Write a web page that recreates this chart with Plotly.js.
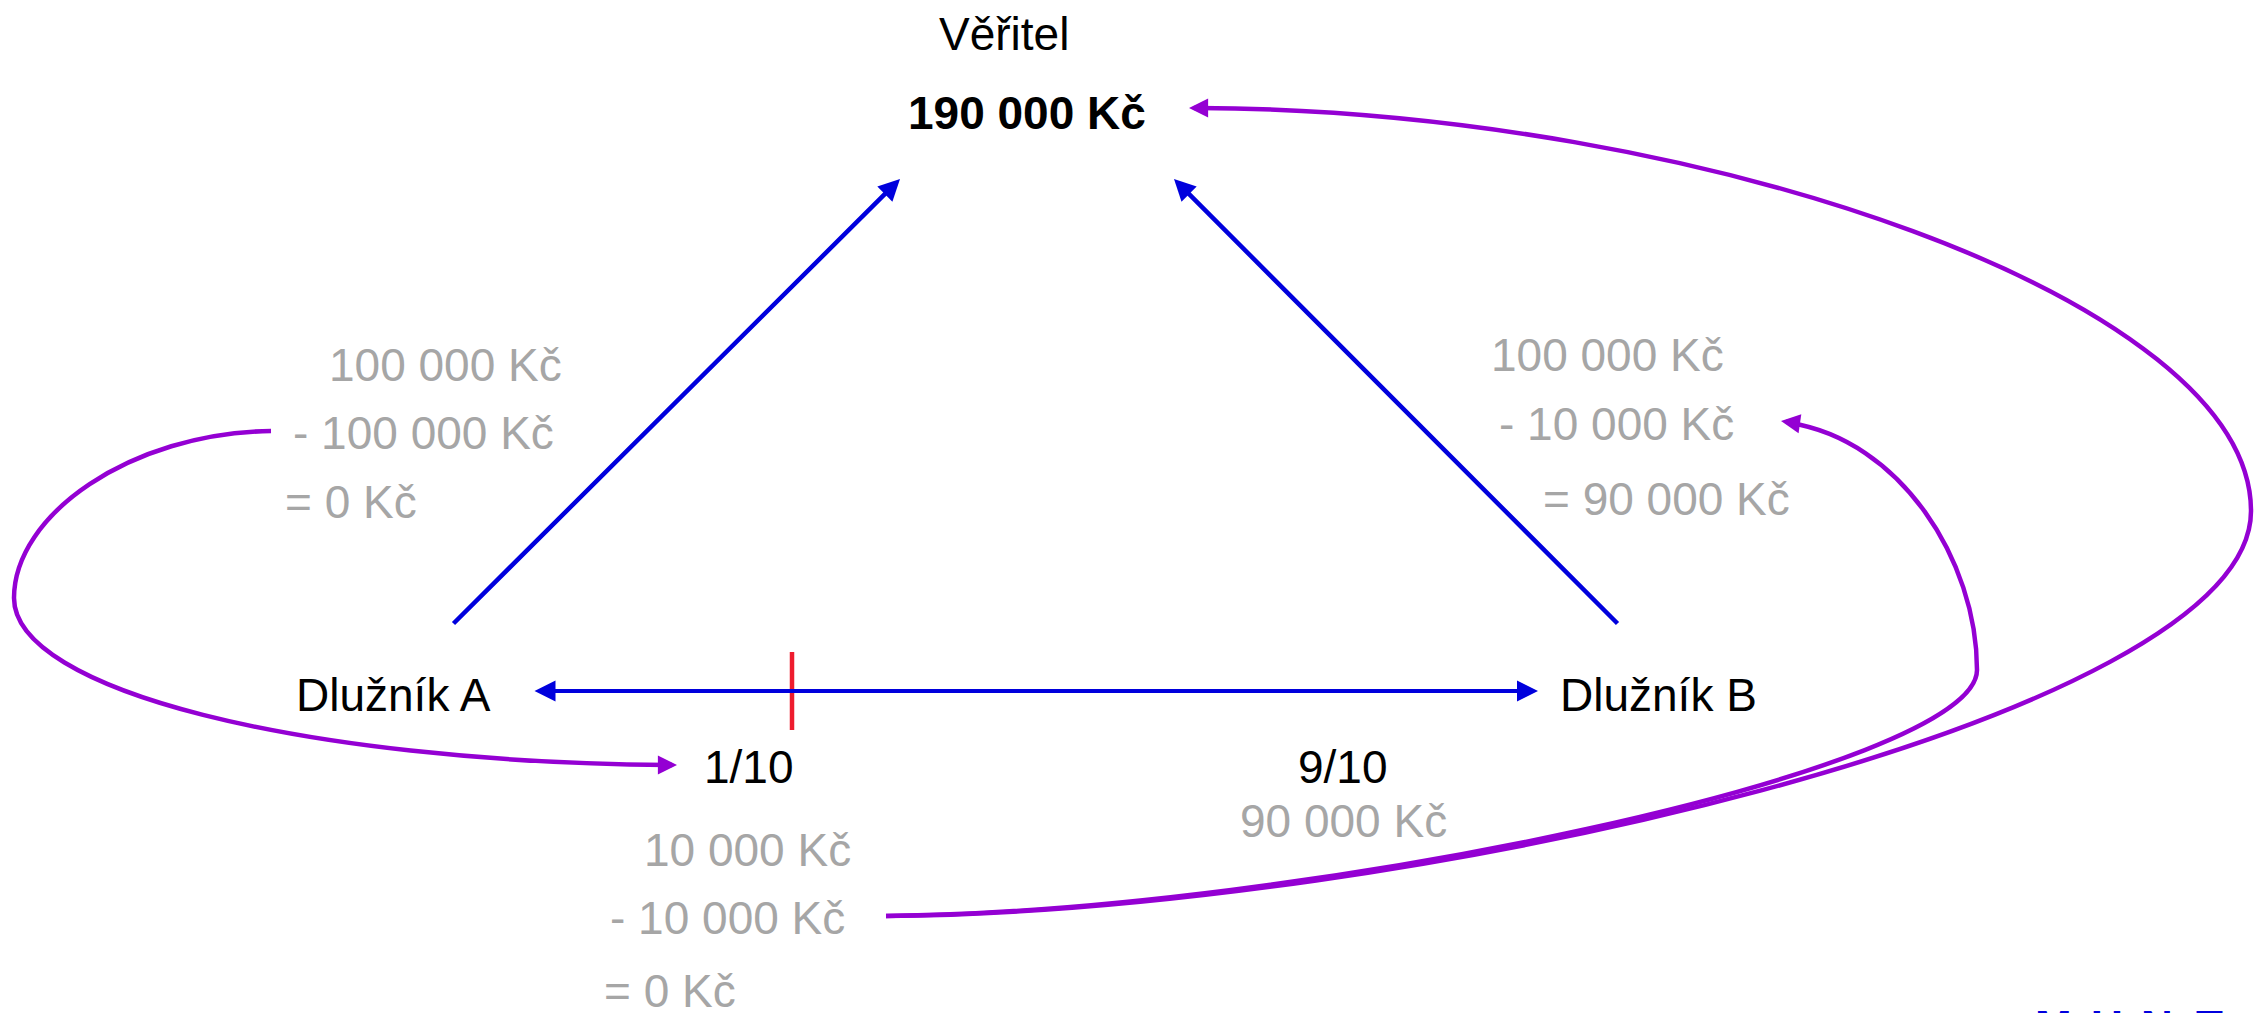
<!DOCTYPE html>
<html><head><meta charset="utf-8">
<script src="https://cdn.plot.ly/plotly-3.0.1.min.js"></script>
<style>html,body{margin:0;padding:0;background:#fff;overflow:hidden}</style>
</head><body><div id="chart" style="width:2258px;height:1013px"></div>
<script>
// ---- content (texts) ----
const nodeNames = ['Věřitel', 'Dlužník A', 'Dlužník B'];
const creditorTotal = '190 000 Kč';
const shares = ['1/10', '9/10'];
const shareAmountB = '90 000 Kč';
const ledgerA = ['100 000 Kč', '- 100 000 Kč', '= 0 Kč'];
const ledgerB = ['100 000 Kč', '- 10 000 Kč', '= 90 000 Kč'];
const ledgerShareA = ['10 000 Kč', '- 10 000 Kč', '= 0 Kč'];
const logoLetters = ['M', 'U', 'N', 'T'];

// ---- layout positions (diagram coordinates, pixel-like space) ----
const nodePos = [[1004, 34], [393, 695], [1658, 695]];
const totalPos = [1027, 113];
const sharePos = [[749, 767], [1343, 767]];
const shareAmountPos = [1343, 821];
const ledgerAPos = [[327, 365], [291, 433], [283, 502]];
const ledgerBPos = [[1489, 355], [1497, 424], [1541, 499]];
const ledgerShareAPos = [[642, 850], [608, 918], [602, 991]];
const logoX = [2053, 2107, 2157, 2209];

// blue straight arrows: [tailX, tailY, tipX, tipY]
const debtArrows = [[452, 625, 900, 179], [1619, 625, 1174, 179]];
const splitArrow = [533, 691, 1538, 691];
const splitMark = [792, 652, 792, 730];

// purple bezier curves: start point then triples of cubic control points
const curveA = [[271, 431], [130, 433], [14, 515], [14, 598], [14, 690], [300, 762], [668, 765]];
const curveInner = [[886, 916], [1300, 912], [1977, 770], [1977, 670], [1977, 560], [1900, 440], [1790, 423]];
const curveOuter = [[886, 916], [1400, 912], [2251, 720], [2251, 511], [2251, 300], [1700, 110], [1198, 108]];
const curveTips = [[677, 765, 662, 765], [1781, 421, 1795, 423], [1189, 108, 1204, 108]];

const BLUE = '#0000DD', PURPLE = '#9400D3', GRAY = '#A6A6A6', RED = '#EE1C2E';
const FONT = 'Arial, "Liberation Sans", Helvetica, sans-serif';
const FS = 46;

function bez(pts) {
  let s = 'M ' + pts[0][0] + ',' + pts[0][1];
  for (let i = 1; i < pts.length; i += 3) {
    s += ' C ' + pts[i][0] + ',' + pts[i][1] + ' ' + pts[i+1][0] + ',' + pts[i+1][1] + ' ' + pts[i+2][0] + ',' + pts[i+2][1];
  }
  return s;
}

const annotations = [];
function txt(t, p, color, anchor, bold, size) {
  annotations.push({
    x: p[0], y: p[1], xref: 'x', yref: 'y', text: bold ? '<b>' + t + '</b>' : t,
    showarrow: false, xanchor: anchor, yanchor: 'middle',
    font: {family: FONT, size: size || FS, color: color}
  });
}
nodeNames.forEach((n, i) => txt(n, nodePos[i], '#000', 'center'));
txt(creditorTotal, totalPos, '#000', 'center', true);
shares.forEach((s, i) => txt(s, sharePos[i], '#000', 'center'));
txt(shareAmountB, shareAmountPos, GRAY, 'center');
ledgerA.forEach((s, i) => txt(s, ledgerAPos[i], GRAY, 'left'));
ledgerB.forEach((s, i) => txt(s, ledgerBPos[i], GRAY, 'left'));
ledgerShareA.forEach((s, i) => txt(s, ledgerShareAPos[i], GRAY, 'left'));
logoLetters.forEach((s, i) => annotations.push({
  x: logoX[i], y: 1000, xref: 'x', yref: 'y', text: '<b>' + s + '</b>', showarrow: false,
  xanchor: 'center', yanchor: 'top', font: {family: FONT, size: 44, color: BLUE}
}));

function arrow(a, color, w, size, both) {
  annotations.push({
    x: a[2], y: a[3], ax: a[0], ay: a[1], xref: 'x', yref: 'y', axref: 'x', ayref: 'y',
    text: '', showarrow: true, arrowhead: 2, arrowsize: size, arrowwidth: w, arrowcolor: color,
    arrowside: both ? 'end+start' : 'end', startarrowhead: 2, startarrowsize: size, standoff: 0, startstandoff: 0
  });
}
debtArrows.forEach(a => arrow(a, BLUE, 4.5, 0.95));
arrow(splitArrow, BLUE, 4, 1.05, true);
curveTips.forEach(t => arrow([t[2], t[3], t[0], t[1]], PURPLE, 4.5, 0.85));

const shapes = [curveA, curveInner, curveOuter].map(c => ({
  type: 'path', xref: 'x', yref: 'y', path: bez(c), line: {color: PURPLE, width: 4.5}
}));
shapes.push({type: 'line', xref: 'x', yref: 'y', x0: splitMark[0], y0: splitMark[1], x1: splitMark[2], y1: splitMark[3],
  line: {color: RED, width: 4.5}});

const layout = {
  width: 2258, height: 1013, margin: {l: 0, r: 0, t: 0, b: 0},
  paper_bgcolor: '#fff', plot_bgcolor: '#fff', showlegend: false,
  xaxis: {range: [0, 2258], visible: false, fixedrange: true},
  yaxis: {range: [1013, 0], visible: false, fixedrange: true},
  annotations: annotations, shapes: shapes
};
Plotly.newPlot('chart', [{x: [0], y: [0], mode: 'markers', marker: {opacity: 0}, hoverinfo: 'skip'}], layout,
  {staticPlot: true, displayModeBar: false});
</script></body></html>
